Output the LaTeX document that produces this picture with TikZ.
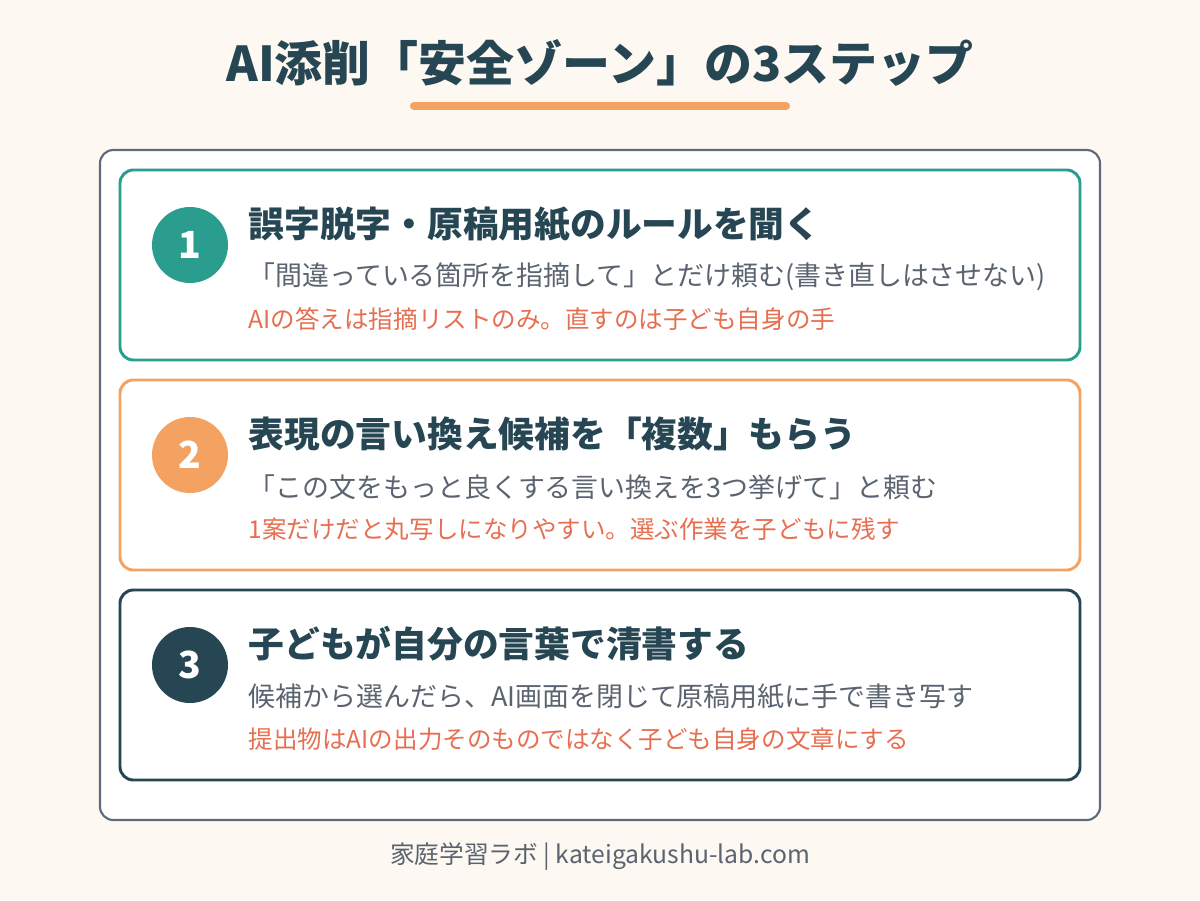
\documentclass[tikz,border=0pt]{standalone}
\usepackage{fontspec}
\setmainfont{Noto Sans CJK JP}
\usetikzlibrary{positioning}
\definecolor{bgc}{HTML}{FDF8F1}
\definecolor{teal}{HTML}{2A9D8F}
\definecolor{orng}{HTML}{F4A261}
\definecolor{navy}{HTML}{264653}
\definecolor{redt}{HTML}{E76F51}
\definecolor{grayt}{HTML}{5A6470}
\definecolor{frame}{HTML}{5F6B7A}
\tikzset{
card/.style={
    draw=#1,
    line width=2.2pt,
    rounded corners=10pt,
    fill=white
},
stepnum/.style={
    circle,
    fill=#1,
    minimum size=57pt,
    inner sep=0pt,
    text=white,
    font=\fontsize{28}{28}\selectfont\bfseries
},
stephead/.style={
    anchor=west,
    text=navy,
    font=\fontsize{26.8}{26.8}\selectfont\bfseries
},
stepbody/.style={
    anchor=west,
    text=grayt,
    font=\fontsize{20.2}{20.2}\selectfont
},
stepnote/.style={
    anchor=west,
    text=redt,
    font=\fontsize{18.4}{18.4}\selectfont
},
}
\begin{document}
\begin{tikzpicture}[x=0.75pt,y=-0.75pt]
\fill [bgc] (0,0) rectangle (1200,900);
\useasboundingbox (0,0) rectangle (1200,900);
%
\node (title) [text=navy,font=\fontsize{36}{36}\selectfont\bfseries] at (600,63) {AI添削「安全ゾーン」の3ステップ};
\draw [orng,line width=6pt,line cap=round] (414,106) -- (786,106);
%
\draw [frame,line width=1.6pt,fill=white,rounded corners=10pt] (100,150) rectangle (1100,820);
%
\draw [card=teal] (120,170) rectangle (1080,360);
\draw [card=orng] (120,380) rectangle (1080,570);
\draw [card=navy] (120,590) rectangle (1080,780);
%
\node (n1) [stepnum=teal] at (190,245) {1};
\node (h1) [stephead] at (244,224) {誤字脱字・原稿用紙のルールを聞く};
\node (b1) [stepbody] at (244,277) {「間違っている箇所を指摘して」とだけ頼む(書き直しはさせない)};
\node (r1) [stepnote] at (244,319) {AIの答えは指摘リストのみ。直すのは子ども自身の手};
%
\node (n2) [stepnum=orng] at (190,455) {2};
\node (h2) [stephead] at (244,434) {表現の言い換え候補を「複数」もらう};
\node (b2) [stepbody] at (244,487) {「この文をもっと良くする言い換えを3つ挙げて」と頼む};
\node (r2) [stepnote] at (244,529) {1案だけだと丸写しになりやすい。選ぶ作業を子どもに残す};
%
\node (n3) [stepnum=navy] at (190,665) {3};
\node (h3) [stephead] at (244,644) {子どもが自分の言葉で清書する};
\node (b3) [stepbody] at (244,697) {候補から選んだら、AI画面を閉じて原稿用紙に手で書き写す};
\node (r3) [stepnote] at (244,739) {提出物はAIの出力そのものではなく子ども自身の文章にする};
%
\node (foot) [text=grayt,font=\fontsize{18.5}{18.5}\selectfont] at (600,857) {家庭学習ラボ | kateigakushu-lab.com};
\end{tikzpicture}
\end{document}
